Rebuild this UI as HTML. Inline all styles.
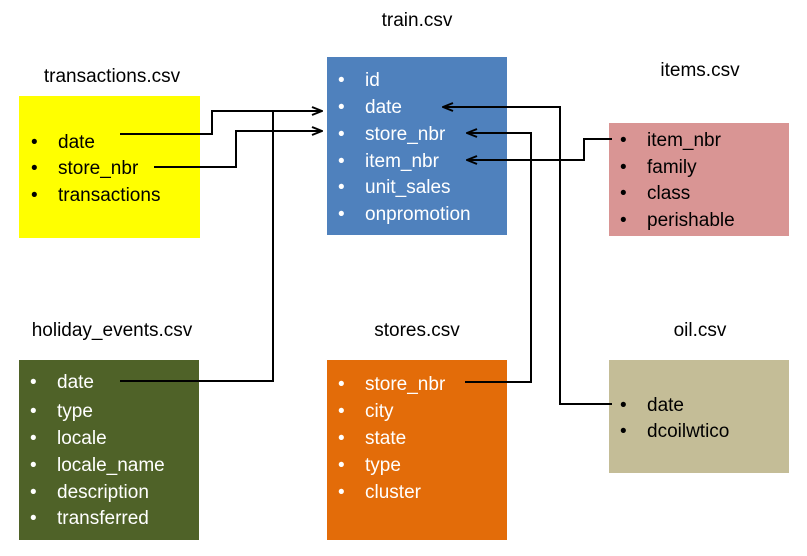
<!DOCTYPE html>
<html><head><style>body{margin:0;background:#fff}svg{display:block}text{font-family:"Liberation Sans",sans-serif;font-size:19px}</style></head><body>
<svg width="807" height="556" viewBox="0 0 807 556">
<defs><marker id="a" markerWidth="12" markerHeight="10" refX="11" refY="5" orient="auto" markerUnits="userSpaceOnUse"><path d="M1,1 L11,5 L1,9" fill="none" stroke="#000" stroke-width="2"/></marker></defs>
<rect x="19" y="96" width="181" height="142" fill="#ffff00"/>
<rect x="327" y="57" width="180" height="178" fill="#4f81bd"/>
<rect x="609" y="123" width="180" height="113" fill="#d99594"/>
<rect x="19" y="360" width="180" height="180" fill="#4f6228"/>
<rect x="327" y="360" width="180" height="180" fill="#e36c09"/>
<rect x="609" y="360" width="180" height="113" fill="#c4bd97"/>
<g text-anchor="middle" fill="#000">
<text x="417" y="26">train.csv</text><text x="112" y="82">transactions.csv</text><text x="700" y="76">items.csv</text>
<text x="112" y="336">holiday_events.csv</text><text x="417" y="336">stores.csv</text><text x="700" y="336">oil.csv</text></g>
<g fill="#fff">
<g transform="translate(338,0)"><text y="86">•</text><text y="113">•</text><text y="140">•</text><text y="167">•</text><text y="193">•</text><text y="220">•</text></g>
<g transform="translate(365,0)"><text y="86">id</text><text y="113">date</text><text y="140">store_nbr</text><text y="167">item_nbr</text><text y="193">unit_sales</text><text y="220">onpromotion</text></g>
<g transform="translate(30,0)"><text y="388">•</text><text y="417">•</text><text y="444">•</text><text y="471">•</text><text y="498">•</text><text y="524">•</text></g>
<g transform="translate(57,0)"><text y="388">date</text><text y="417">type</text><text y="444">locale</text><text y="471">locale_name</text><text y="498">description</text><text y="524">transferred</text></g>
<g transform="translate(338,0)"><text y="390">•</text><text y="417">•</text><text y="444">•</text><text y="471">•</text><text y="498">•</text></g>
<g transform="translate(365,0)"><text y="390">store_nbr</text><text y="417">city</text><text y="444">state</text><text y="471">type</text><text y="498">cluster</text></g>
</g>
<g fill="#000">
<g transform="translate(31,0)"><text y="148">•</text><text y="174">•</text><text y="201">•</text></g>
<g transform="translate(58,0)"><text y="148">date</text><text y="174">store_nbr</text><text y="201">transactions</text></g>
<g transform="translate(620,0)"><text y="146">•</text><text y="173">•</text><text y="199">•</text><text y="226">•</text></g>
<g transform="translate(647,0)"><text y="146">item_nbr</text><text y="173">family</text><text y="199">class</text><text y="226">perishable</text></g>
<g transform="translate(620,0)"><text y="411">•</text><text y="437">•</text></g>
<g transform="translate(647,0)"><text y="411">date</text><text y="437">dcoilwtico</text></g>
</g>
<g fill="none" stroke="#000" stroke-width="2">
<path d="M120,134 H212 V111 H322" marker-end="url(#a)"/>
<path d="M154,167 H236 V131 H322" marker-end="url(#a)"/>
<path d="M120,381 H273 V111"/>
<path d="M612,404 H560 V107 H443" marker-end="url(#a)"/>
<path d="M465,382 H531 V133 H467" marker-end="url(#a)"/>
<path d="M612,139 H584 V160 H467" marker-end="url(#a)"/>
</g>
</svg></body></html>
